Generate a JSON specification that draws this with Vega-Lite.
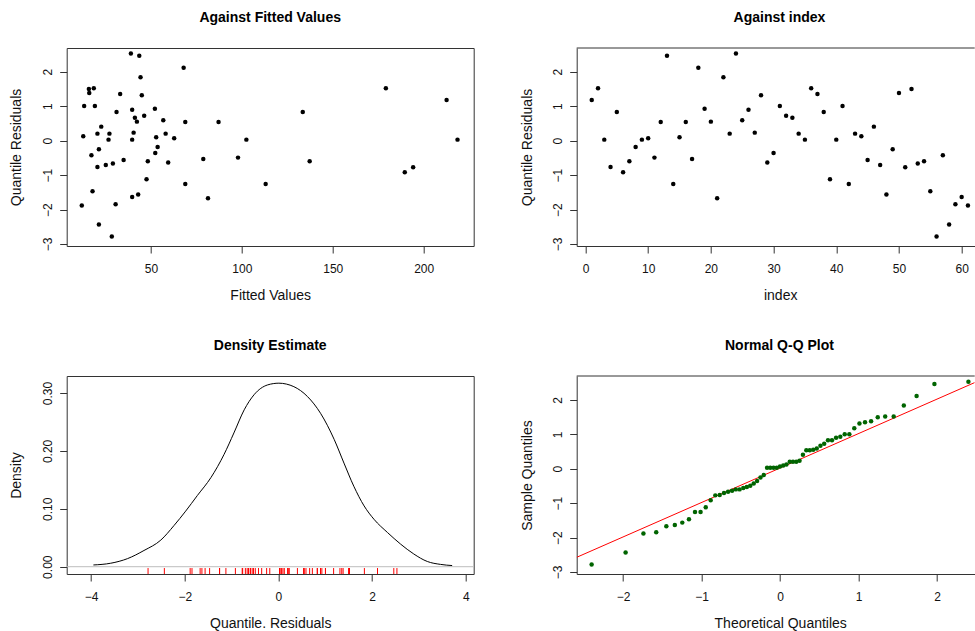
{
  "$schema": "https://vega.github.io/schema/vega-lite/v6.json",
  "autosize": {"type": "none"},
  "padding": {"left": 66.7, "top": 48, "right": 908.3, "bottom": 583},
  "background": "white",
  "columns": 2,
  "bounds": "flush",
  "align": "all",
  "spacing": {"row": 130, "column": 103},
  "datasets": {
    "resid": [
      {"index": 1, "fitted": 212.6, "resid": 1.179},
      {"index": 2, "fitted": 18.6, "resid": 1.517},
      {"index": 3, "fitted": 26.7, "resid": 0.029},
      {"index": 4, "fitted": 20.6, "resid": -0.763},
      {"index": 5, "fitted": 133.5, "resid": 0.831},
      {"index": 6, "fitted": 189.6, "resid": -0.918},
      {"index": 7, "fitted": 137.3, "resid": -0.599},
      {"index": 8, "fitted": 53.7, "resid": -0.184},
      {"index": 9, "fitted": 39.7, "resid": 0.029},
      {"index": 10, "fitted": 62.8, "resid": 0.068},
      {"index": 11, "fitted": 97.9, "resid": -0.493},
      {"index": 12, "fitted": 87.2, "resid": 0.541},
      {"index": 13, "fitted": 43.6, "resid": 2.464},
      {"index": 14, "fitted": 113.1, "resid": -1.256},
      {"index": 15, "fitted": 52.9, "resid": 0.097},
      {"index": 16, "fitted": 68.9, "resid": 0.541},
      {"index": 17, "fitted": 78.8, "resid": -0.531},
      {"index": 18, "fitted": 68.0, "resid": 2.116},
      {"index": 19, "fitted": 52.2, "resid": 0.928},
      {"index": 20, "fitted": 42.3, "resid": 0.551},
      {"index": 21, "fitted": 81.4, "resid": -1.671},
      {"index": 22, "fitted": 44.3, "resid": 1.836},
      {"index": 23, "fitted": 58.1, "resid": 0.203},
      {"index": 24, "fitted": 39.0, "resid": 2.531},
      {"index": 25, "fitted": 56.8, "resid": 0.589},
      {"index": 26, "fitted": 39.7, "resid": 0.899},
      {"index": 27, "fitted": 40.5, "resid": 0.232},
      {"index": 28, "fitted": 45.0, "resid": 1.314},
      {"index": 29, "fitted": 59.5, "resid": -0.638},
      {"index": 30, "fitted": 52.4, "resid": -0.357},
      {"index": 31, "fitted": 19.2, "resid": 1.005},
      {"index": 32, "fitted": 46.3, "resid": 0.725},
      {"index": 33, "fitted": 41.2, "resid": 0.667},
      {"index": 34, "fitted": 27.2, "resid": 0.203},
      {"index": 35, "fitted": 102.5, "resid": 0.029},
      {"index": 36, "fitted": 179.2, "resid": 1.517},
      {"index": 37, "fitted": 33.1, "resid": 1.353},
      {"index": 38, "fitted": 31.1, "resid": 0.831},
      {"index": 39, "fitted": 47.6, "resid": -1.121},
      {"index": 40, "fitted": 218.6, "resid": 0.029},
      {"index": 41, "fitted": 13.3, "resid": 1.005},
      {"index": 42, "fitted": 68.9, "resid": -1.256},
      {"index": 43, "fitted": 20.6, "resid": 0.203},
      {"index": 44, "fitted": 12.8, "resid": 0.126},
      {"index": 45, "fitted": 35.0, "resid": -0.560},
      {"index": 46, "fitted": 22.7, "resid": 0.406},
      {"index": 47, "fitted": 25.2, "resid": -0.705},
      {"index": 48, "fitted": 43.0, "resid": -1.565},
      {"index": 49, "fitted": 21.4, "resid": -0.251},
      {"index": 50, "fitted": 16.1, "resid": 1.382},
      {"index": 51, "fitted": 194.2, "resid": -0.773},
      {"index": 52, "fitted": 15.9, "resid": 1.498},
      {"index": 53, "fitted": 29.1, "resid": -0.667},
      {"index": 54, "fitted": 48.3, "resid": -0.599},
      {"index": 55, "fitted": 17.9, "resid": -1.469},
      {"index": 56, "fitted": 28.5, "resid": -2.783},
      {"index": 57, "fitted": 17.3, "resid": -0.425},
      {"index": 58, "fitted": 21.4, "resid": -2.435},
      {"index": 59, "fitted": 30.6, "resid": -1.845},
      {"index": 60, "fitted": 39.7, "resid": -1.633},
      {"index": 61, "fitted": 12.0, "resid": -1.884}
    ],
    "qq": [
      {"tq": -2.400, "sq": -2.783}, {"tq": -1.967, "sq": -2.435}, {"tq": -1.740, "sq": -1.884},
      {"tq": -1.577, "sq": -1.845}, {"tq": -1.448, "sq": -1.671}, {"tq": -1.340, "sq": -1.633},
      {"tq": -1.245, "sq": -1.565}, {"tq": -1.160, "sq": -1.469}, {"tq": -1.083, "sq": -1.256},
      {"tq": -1.012, "sq": -1.256}, {"tq": -0.946, "sq": -1.121}, {"tq": -0.883, "sq": -0.918},
      {"tq": -0.824, "sq": -0.773}, {"tq": -0.768, "sq": -0.763}, {"tq": -0.714, "sq": -0.705},
      {"tq": -0.662, "sq": -0.667}, {"tq": -0.611, "sq": -0.638}, {"tq": -0.563, "sq": -0.599},
      {"tq": -0.515, "sq": -0.599}, {"tq": -0.468, "sq": -0.560}, {"tq": -0.423, "sq": -0.531},
      {"tq": -0.379, "sq": -0.493}, {"tq": -0.335, "sq": -0.425}, {"tq": -0.292, "sq": -0.357},
      {"tq": -0.249, "sq": -0.251}, {"tq": -0.207, "sq": -0.184}, {"tq": -0.165, "sq": 0.029},
      {"tq": -0.124, "sq": 0.029}, {"tq": -0.082, "sq": 0.029}, {"tq": -0.041, "sq": 0.029},
      {"tq": 0.0, "sq": 0.068}, {"tq": 0.041, "sq": 0.097}, {"tq": 0.082, "sq": 0.126},
      {"tq": 0.124, "sq": 0.203}, {"tq": 0.165, "sq": 0.203}, {"tq": 0.207, "sq": 0.203},
      {"tq": 0.249, "sq": 0.232}, {"tq": 0.292, "sq": 0.406}, {"tq": 0.335, "sq": 0.541},
      {"tq": 0.379, "sq": 0.541}, {"tq": 0.423, "sq": 0.551}, {"tq": 0.468, "sq": 0.589},
      {"tq": 0.515, "sq": 0.667}, {"tq": 0.563, "sq": 0.725}, {"tq": 0.611, "sq": 0.831},
      {"tq": 0.662, "sq": 0.831}, {"tq": 0.714, "sq": 0.899}, {"tq": 0.768, "sq": 0.928},
      {"tq": 0.824, "sq": 1.005}, {"tq": 0.883, "sq": 1.005}, {"tq": 0.946, "sq": 1.179},
      {"tq": 1.012, "sq": 1.314}, {"tq": 1.083, "sq": 1.353}, {"tq": 1.160, "sq": 1.382},
      {"tq": 1.245, "sq": 1.498}, {"tq": 1.340, "sq": 1.517}, {"tq": 1.448, "sq": 1.517},
      {"tq": 1.577, "sq": 1.836}, {"tq": 1.740, "sq": 2.116}, {"tq": 1.967, "sq": 2.464},
      {"tq": 2.400, "sq": 2.531}
    ],
    "qqline": [
      {"tq": -2.59, "sq": -2.573},
      {"tq": 2.48, "sq": 2.505}
    ],
    "dens": [
      {"x": -3.95, "d": 0.003}, {"x": -3.58, "d": 0.006}, {"x": -3.22, "d": 0.014},
      {"x": -2.87, "d": 0.028}, {"x": -2.51, "d": 0.046}, {"x": -2.23, "d": 0.071},
      {"x": -1.98, "d": 0.096}, {"x": -1.73, "d": 0.123}, {"x": -1.44, "d": 0.154},
      {"x": -1.16, "d": 0.194}, {"x": -0.95, "d": 0.231}, {"x": -0.73, "d": 0.271},
      {"x": -0.52, "d": 0.297}, {"x": -0.23, "d": 0.314}, {"x": 0.01, "d": 0.317},
      {"x": 0.33, "d": 0.311}, {"x": 0.62, "d": 0.294}, {"x": 0.90, "d": 0.265},
      {"x": 1.19, "d": 0.220}, {"x": 1.40, "d": 0.179}, {"x": 1.61, "d": 0.139},
      {"x": 1.83, "d": 0.105}, {"x": 2.04, "d": 0.082}, {"x": 2.33, "d": 0.059},
      {"x": 2.61, "d": 0.039}, {"x": 2.89, "d": 0.022}, {"x": 3.18, "d": 0.009},
      {"x": 3.46, "d": 0.004}, {"x": 3.71, "d": 0.002}
    ]
  },
  "concat": [
    {
      "title": "Against Fitted Values",
      "width": 407,
      "height": 198,
      "data": {"name": "resid"},
      "mark": {"type": "circle", "size": 20, "color": "#000", "opacity": 1},
      "encoding": {
        "x": {"field": "fitted", "type": "quantitative", "scale": {"domain": [3.7, 227.5], "nice": false, "zero": false}, "axis": {"values": [50, 100, 150, 200], "format": "d", "labelOverlap": false, "title": "Fitted Values"}},
        "y": {"field": "resid", "type": "quantitative", "scale": {"domain": [-3.058, 2.688], "nice": false, "zero": false}, "axis": {"values": [-3, -2, -1, 0, 1, 2], "format": "d", "labelOverlap": false, "title": "Quantile Residuals"}}
      }
    },
    {
      "title": {"text": "Against  index", "dx": 3.75},
      "width": 398,
      "height": 198,
      "view": {"stroke": null},
      "layer": [
        {
          "data": {"name": "resid"},
          "mark": {"type": "circle", "size": 20, "color": "#000", "opacity": 1},
          "encoding": {
            "x": {"field": "index", "type": "quantitative", "scale": {"domain": [-1.4, 62.08], "nice": false, "zero": false}, "axis": {"values": [0, 10, 20, 30, 40, 50, 60], "format": "d", "labelOverlap": false, "title": "index", "domain": true}},
            "y": {"field": "resid", "type": "quantitative", "scale": {"domain": [-3.058, 2.688], "nice": false, "zero": false}, "axis": {"values": [-3, -2, -1, 0, 1, 2], "format": "d", "labelOverlap": false, "title": "Quantile Residuals", "domain": true}}
          }
        },
        {
          "data": {"values": [{}]},
          "mark": {"type": "rule", "color": "#333", "strokeWidth": 1},
          "encoding": {"y": {"datum": 2.688, "type": "quantitative", "axis": {"values": [-3, -2, -1, 0, 1, 2], "format": "d", "labelOverlap": false, "title": "Quantile Residuals", "domain": true}}}
        }
      ]
    },
    {
      "title": "Density Estimate",
      "width": 407,
      "height": 198,
      "layer": [
        {
          "data": {"values": [{}]},
          "mark": {"type": "rule", "color": "#bdbdbd", "strokeWidth": 1},
          "encoding": {"y": {"datum": 0, "type": "quantitative", "axis": {"values": [0, 0.05, 0.1, 0.15, 0.2, 0.25, 0.3], "format": ".2f", "labelOverlap": false, "labelExpr": "indexof(['0.00','0.10','0.20','0.30'], datum.label) >= 0 ? datum.label : ''", "title": "Density"}}}
        },
        {
          "data": {"name": "dens"},
          "mark": {"type": "line", "color": "#000", "strokeWidth": 1, "interpolate": "monotone"},
          "encoding": {
            "x": {"field": "x", "type": "quantitative", "scale": {"domain": [-4.52, 4.17], "nice": false, "zero": false}, "axis": {"values": [-4, -2, 0, 2, 4], "format": "d", "labelOverlap": false, "title": "Quantile. Residuals"}},
            "y": {"field": "d", "type": "quantitative", "scale": {"domain": [-0.0126, 0.3294], "nice": false, "zero": false}, "axis": {"values": [0, 0.05, 0.1, 0.15, 0.2, 0.25, 0.3], "format": ".2f", "labelOverlap": false, "labelExpr": "indexof(['0.00','0.10','0.20','0.30'], datum.label) >= 0 ? datum.label : ''", "title": "Density"}}
          }
        },
        {
          "data": {"name": "resid"},
          "mark": {"type": "rule", "color": "#ff0000", "strokeWidth": 1},
          "encoding": {
            "x": {"field": "resid", "type": "quantitative", "axis": {"values": [-4, -2, 0, 2, 4], "format": "d", "labelOverlap": false, "title": "Quantile. Residuals"}},
            "y": {"datum": -0.0126},
            "y2": {"datum": -0.0023}
          }
        }
      ]
    },
    {
      "title": {"text": "Normal Q-Q Plot", "dx": 3.75},
      "width": 398,
      "height": 198,
      "view": {"stroke": null},
      "layer": [
        {
          "data": {"name": "qqline"},
          "mark": {"type": "line", "color": "#ff0000", "strokeWidth": 1, "clip": true},
          "encoding": {
            "x": {"field": "tq", "type": "quantitative", "scale": {"domain": [-2.59, 2.48], "nice": false, "zero": false}, "axis": {"values": [-2, -1, 0, 1, 2], "format": "d", "labelOverlap": false, "title": "Theoretical Quantiles", "domain": true}},
            "y": {"field": "sq", "type": "quantitative", "scale": {"domain": [-3.058, 2.696], "nice": false, "zero": false}, "axis": {"values": [-3, -2, -1, 0, 1, 2], "format": "d", "labelOverlap": false, "title": "Sample Quantiles", "domain": true}}
          }
        },
        {
          "data": {"name": "qq"},
          "mark": {"type": "circle", "size": 20, "color": "#006400", "opacity": 1},
          "encoding": {
            "x": {"field": "tq", "type": "quantitative", "axis": {"values": [-2, -1, 0, 1, 2], "format": "d", "labelOverlap": false, "title": "Theoretical Quantiles", "domain": true}},
            "y": {"field": "sq", "type": "quantitative", "axis": {"values": [-3, -2, -1, 0, 1, 2], "format": "d", "labelOverlap": false, "title": "Sample Quantiles", "domain": true}}
          }
        },
        {
          "data": {"values": [{}]},
          "mark": {"type": "rule", "color": "#333", "strokeWidth": 1},
          "encoding": {"y": {"datum": 2.696, "type": "quantitative", "axis": {"values": [-3, -2, -1, 0, 1, 2], "format": "d", "labelOverlap": false, "title": "Sample Quantiles", "domain": true}}}
        }
      ]
    }
  ],
  "config": {
    "font": "Liberation Sans",
    "view": {"stroke": "#333", "strokeWidth": 1},
    "axis": {
      "grid": false,
      "domain": false,
      "domainColor": "#333",
      "tickColor": "#333",
      "tickSize": 7,
      "labelFontSize": 12,
      "labelColor": "#111",
      "labelFont": "Liberation Sans",
      "labelFlush": false,
      "labelOverlap": false,
      "titleFont": "Liberation Sans",
      "titleFontSize": 14,
      "titleFontWeight": "normal",
      "titleColor": "#111"
    },
    "axisX": {"labelPadding": 10, "titleY": 49, "titleX": 203.5, "titleBaseline": "middle"},
    "axisY": {"labelAngle": -90, "labelAlign": "center", "labelBaseline": "bottom", "labelPadding": 5, "titleX": -49.7, "titleBaseline": "middle"},
    "title": {"fontSize": 14, "fontWeight": "bold", "font": "Liberation Sans", "color": "#000", "offset": 23, "baseline": "alphabetic", "anchor": "middle"}
  }
}
